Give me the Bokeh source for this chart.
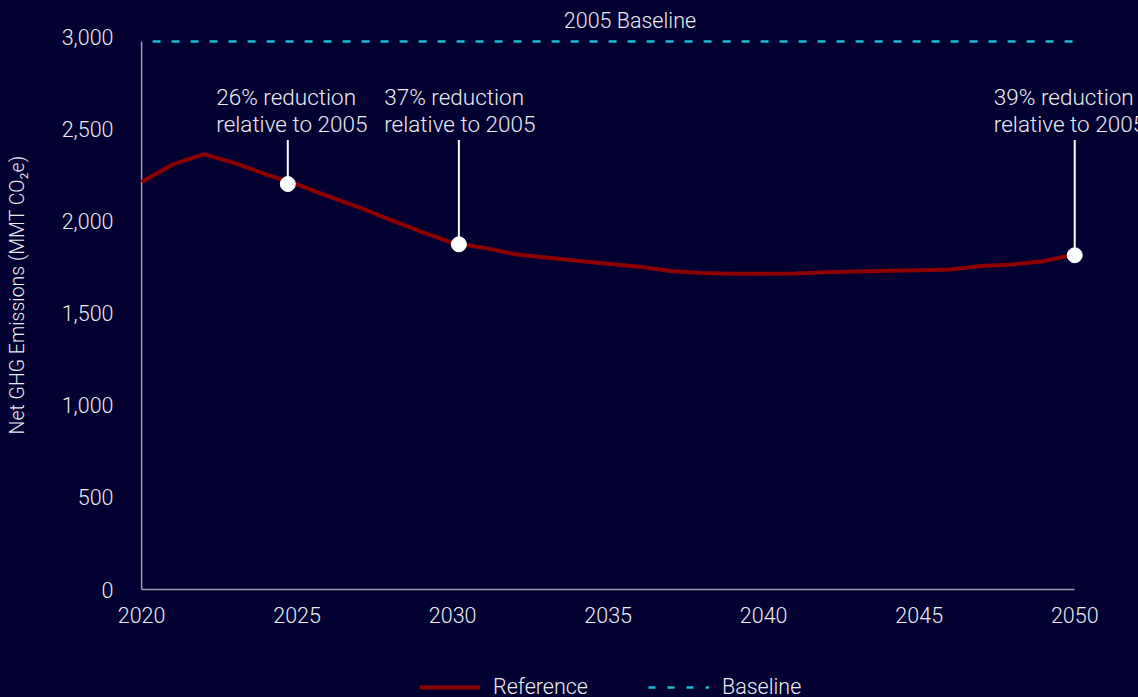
from bokeh.plotting import figure
from bokeh.layouts import column
from bokeh.models import FixedTicker, NumeralTickFormatter, Legend, LegendItem
from bokeh.core.properties import value
from bokeh.embed import file_html
from bokeh.resources import INLINE

# Net GHG emissions, reference projection (MMT CO2e)
years = list(range(2020, 2051))
emissions = [2212, 2308, 2364, 2315, 2254, 2200, 2134, 2075, 2007, 1942,
             1882, 1856, 1820, 1802, 1785, 1769, 1753, 1729, 1718, 1715,
             1715, 1716, 1722, 1727, 1731, 1734, 1737, 1756, 1765, 1782,
             1820]

baseline_2005 = 2975

# Callouts: where they sit on the curve and the reduction they state
callout_years = [2024.7, 2030.2, 2050]
callout_pct = [26, 37, 39]
callout_text_x = [2022.4, 2027.8, 2047.4]
callout_top = 2440

x_ticks = [2020, 2025, 2030, 2035, 2040, 2045, 2050]
y_ticks = [0, 500, 1000, 1500, 2000, 2500, 3000]

BG = "#010030"
AXIS = "#9c9cb0"
TXT = "#ececf2"
RED = "#8e0000"
CYAN = "#16bcd2"
FONT = "Roboto Light"

callout_vals = [baseline_2005 * (1 - p / 100) for p in callout_pct]
callout_labels = [f"{p}% reduction\nrelative to 2005" for p in callout_pct]

p = figure(width=1138, height=645,
           x_range=(2019.9, 2052.05), y_range=(0, 3198),
           output_backend="svg", toolbar_location=None,
           min_border_left=138, min_border_right=0,
           min_border_top=0, min_border_bottom=56,
           background_fill_color=BG, border_fill_color=BG)
p.outline_line_color = None

p.xgrid.grid_line_color = None
p.ygrid.grid_line_color = None

# x axis
xa = p.xaxis[0]
xa.ticker = FixedTicker(ticks=x_ticks)
xa.bounds = (years[0], years[-1])
xa.axis_line_color = AXIS
xa.axis_line_width = 1.5
xa.major_tick_line_color = None
xa.minor_tick_line_color = None
xa.major_label_standoff = 11
xa.major_label_text_font = FONT
xa.major_label_text_font_size = "21.5px"
xa.major_label_text_color = TXT

# y axis
ya = p.yaxis[0]
ya.ticker = FixedTicker(ticks=y_ticks)
ya.formatter = NumeralTickFormatter(format="0,0")
ya.bounds = (y_ticks[0], y_ticks[-1])
ya.axis_line_color = None
ya.major_tick_line_color = None
ya.minor_tick_line_color = None
ya.major_label_standoff = 19
ya.major_label_text_font = FONT
ya.major_label_text_font_size = "21.5px"
ya.major_label_text_color = TXT
ya.axis_label = "Net GHG Emissions (MMT CO\u2082e)"
ya.axis_label_text_font = FONT
ya.axis_label_text_font_size = "19.5px"
ya.axis_label_text_font_style = "normal"
ya.axis_label_text_color = TXT
ya.axis_label_standoff = 30

# vertical axis rule, up to the 2005 level
p.segment(x0=[years[0]], y0=[0], x1=[years[0]], y1=[baseline_2005],
          line_color=AXIS, line_width=1.5)

# 2005 baseline
p.line(x=[years[0], years[-1]], y=[baseline_2005, baseline_2005],
       line_color=CYAN, line_width=2.5, line_dash="8 11",
       line_dash_offset=8)
p.text(x=[2035.7], y=[baseline_2005], text=["2005 Baseline"],
       text_align="center", text_baseline="middle", y_offset=-21,
       text_font=value(FONT), text_font_size="21.5px", text_color=TXT)

# reference projection
p.line(x=years, y=emissions, line_color=RED, line_width=4,
       line_join="round")

# callouts
p.segment(x0=callout_years, y0=[callout_top] * 3, x1=callout_years,
          y1=callout_vals, line_color="white", line_width=2)
p.scatter(x=callout_years, y=callout_vals, size=15, fill_color="white",
          line_color="white")
p.text(x=callout_text_x, y=[callout_top] * 3, text=callout_labels,
       text_align="left", text_baseline="bottom", y_offset=-3,
       text_line_height=1.05,
       text_font=value(FONT), text_font_size="22.5px", text_color=TXT)

# legend strip under the chart (its frame lines up with the chart's frame)
lg = figure(width=1138, height=52, x_range=(0, 1), y_range=(0, 1),
            output_backend="svg", toolbar_location=None,
            x_axis_location=None, y_axis_location=None,
            min_border_left=0, min_border_right=0,
            min_border_top=0, min_border_bottom=0,
            background_fill_color=BG, border_fill_color=BG)
lg.outline_line_color = None
lg.xgrid.grid_line_color = None
lg.ygrid.grid_line_color = None
# single off-range points: nothing is drawn, only the legend keys
ref_key = lg.line(x=[0], y=[-1], line_color=RED, line_width=4)
base_key = lg.line(x=[0], y=[-1], line_color=CYAN, line_width=2.5,
                   line_dash="7 12")

legend = Legend(items=[LegendItem(label="Reference", renderers=[ref_key]),
                       LegendItem(label="Baseline", renderers=[base_key])],
                orientation="horizontal", location=(281, -2),
                glyph_width=61, glyph_height=20, label_height=20,
                label_standoff=13, spacing=60, padding=0, margin=0,
                border_line_color=None, background_fill_alpha=0,
                label_text_font=FONT, label_text_font_size="21.5px",
                label_text_color=TXT)
lg.add_layout(legend)

page = column(p, lg, spacing=0, styles={"background-color": BG})
open("out.html", "w").write(file_html(page, INLINE))
